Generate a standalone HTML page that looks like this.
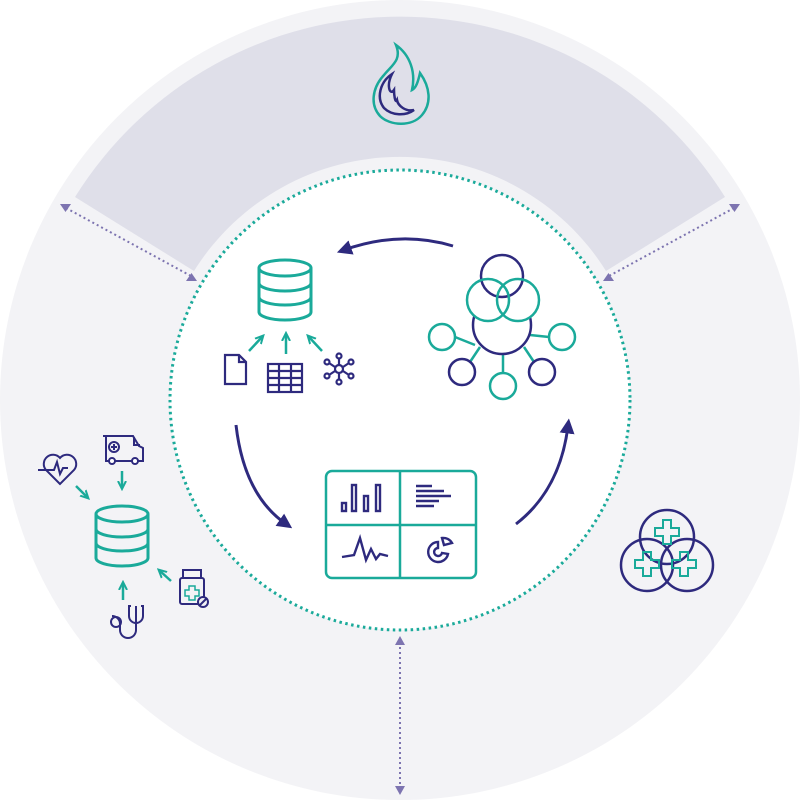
<!DOCTYPE html>
<html><head><style>html,body{margin:0;padding:0;background:#fff}svg{display:block}</style></head><body>
<svg width="800" height="800" viewBox="0 0 800 800" xmlns="http://www.w3.org/2000/svg">
<defs>
<marker id="ah" viewBox="0 0 10 10" refX="5" refY="5" markerWidth="5" markerHeight="5" orient="auto"><path d="M0,0L10,5L0,10z" fill="#2e2a7e"/></marker>
<marker id="at" viewBox="0 0 10 10" refX="6" refY="5" markerWidth="4" markerHeight="4" orient="auto"><path d="M0,1L8,5L0,9" fill="none" stroke="#1aaa9a" stroke-width="2"/></marker>
</defs>
<circle cx="400" cy="400" r="400" fill="#f3f3f6"/>
<path d="M75,197 A383,383 0 0 1 725,197 L606,271 A243,243 0 0 0 194,271 Z" fill="#dfdfe9"/>
<circle cx="400" cy="400" r="230" fill="#fff" stroke="#1aaa9a" stroke-width="3" stroke-dasharray="2.5 3.5"/>
<g stroke="#7d74b0" stroke-width="2" stroke-dasharray="2 3" fill="none">
<line x1="66" y1="208" x2="191" y2="276"/>
<line x1="734" y1="208" x2="609" y2="276"/>
<line x1="400" y1="642" x2="400" y2="788"/>
</g>
<g fill="#7d74b0">
<path d="M60,204h11l-5.5,8z"/><path d="M186,281h11l-5.5,-8z"/>
<path d="M729,204h11l-5.5,8z"/><path d="M603,281h11l-5.5,-8z"/>
<path d="M395,645h10l-5,-9z"/><path d="M395,786h10l-5,9z"/>
</g>
<path d="M396,45 C402,60 392,65 384,75 C372,88 370,105 380,116 C390,126 412,127 422,115 C432,103 430,87 420,73 C418,82 416,88 412,90 C416,72 410,55 396,45 Z" fill="none" stroke="#1aaa9a" stroke-width="2.5"/>
<path d="M392,74 C380,82 376,98 384,108 C392,116 406,116 414,110 C406,112 398,106 397,100 C395,104 394,94 394,90 C390,96 386,86 392,74 Z" fill="none" stroke="#2e2a7e" stroke-width="2.5"/>
<g fill="none" stroke="#2e2a7e" stroke-width="3">
<path d="M453,246 Q400,230 344,250" marker-end="url(#ah)"/>
<path d="M236,425 Q244,495 286,524" marker-end="url(#ah)"/>
<path d="M516,524 Q560,490 568,426" marker-end="url(#ah)"/>
</g>
<g fill="none" stroke="#1aaa9a" stroke-width="3">
<ellipse cx="285" cy="268" rx="26" ry="8"/>
<path d="M259,268v44a26,8 0 0 0 52,0v-44"/>
<path d="M259,283a26,8 0 0 0 52,0M259,297a26,8 0 0 0 52,0"/>
</g>
<g stroke="#1aaa9a" stroke-width="2.5" fill="none">
<line x1="249" y1="351" x2="262" y2="337" marker-end="url(#at)"/>
<line x1="286" y1="354" x2="286" y2="335" marker-end="url(#at)"/>
<line x1="322" y1="351" x2="309" y2="337" marker-end="url(#at)"/>
</g>
<g stroke="#2e2a7e" stroke-width="2.2" fill="none">
<path d="M225,355h14l7,7v22h-21z"/><path d="M239,355v7h7"/>
<rect x="268" y="364" width="34" height="28"/>
<path d="M268,371h34M268,378h34M268,385h34M279,364v28M291,364v28"/>
<circle cx="339" cy="369" r="4"/>
<circle cx="339" cy="356" r="2.5"/><circle cx="339" cy="382" r="2.5"/>
<circle cx="327" cy="362" r="2.5"/><circle cx="351" cy="362" r="2.5"/>
<circle cx="327" cy="376" r="2.5"/><circle cx="351" cy="376" r="2.5"/>
<path d="M339,358.5v6.5M339,373v6.5M329,363l6,4M349,363l-6,4M329,375l6,-4M349,375l-6,-4"/>
</g>
<g fill="none" stroke-width="2.5">
<path d="M475,345L455,337M530,335L549,337M480,347L470,362M524,347L534,362M503,354V373" stroke="#1aaa9a"/>
<circle cx="502" cy="325" r="29" stroke="#2e2a7e" fill="#fff"/>
<circle cx="488" cy="300" r="21" stroke="none" fill="#fff"/>
<circle cx="518" cy="300" r="21" stroke="none" fill="#fff"/>
<circle cx="502" cy="276" r="21" stroke="#2e2a7e"/>
<circle cx="488" cy="300" r="21" stroke="#1aaa9a"/>
<circle cx="518" cy="300" r="21" stroke="#1aaa9a"/>
<circle cx="442" cy="337" r="13" stroke="#1aaa9a"/>
<circle cx="562" cy="337" r="13" stroke="#1aaa9a"/>
<circle cx="462" cy="372" r="13" stroke="#2e2a7e"/>
<circle cx="542" cy="372" r="13" stroke="#2e2a7e"/>
<circle cx="503" cy="386" r="13" stroke="#1aaa9a"/>
</g>
<rect x="326" y="471" width="150" height="107" rx="6" fill="none" stroke="#1aaa9a" stroke-width="2.5"/>
<path d="M400,471v107M326,525h150" stroke="#1aaa9a" stroke-width="2.5"/>
<g stroke="#2e2a7e" stroke-width="2.4" fill="none">
<rect x="342" y="503" width="4" height="8"/><rect x="352" y="485" width="4" height="26"/>
<rect x="364" y="496" width="4" height="15"/><rect x="376" y="485" width="4" height="26"/>
<path d="M416,486h16M416,491h28M416,496h35M416,501h23M416,506h18"/>
<path d="M342,557l12,-2l6,-17l6,22l5,-11l5,10l4,-5l8,2"/>
<path d="M438,542a10,10 0 1 0 10,12l-6,-1a4,4 0 1 1 -4,-5z"/>
<path d="M442,538l2,7l8,-2a10,10 0 0 0 -10,-5z"/>
</g>
<g fill="none" stroke="#1aaa9a" stroke-width="3">
<ellipse cx="122" cy="514" rx="26" ry="8"/>
<path d="M96,514v44a26,8 0 0 0 52,0v-44"/>
<path d="M96,529a26,8 0 0 0 52,0M96,543a26,8 0 0 0 52,0"/>
</g>
<g stroke="#1aaa9a" stroke-width="2.5" fill="none">
<line x1="76" y1="486" x2="87" y2="497" marker-end="url(#at)"/>
<line x1="122" y1="471" x2="122" y2="487" marker-end="url(#at)"/>
<line x1="123" y1="600" x2="123" y2="584" marker-end="url(#at)"/>
<line x1="171" y1="581" x2="160" y2="571" marker-end="url(#at)"/>
</g>
<g stroke="#2e2a7e" stroke-width="2" fill="none">
<path d="M60,484l-14,-14a9,9 0 0 1 14,-12a9,9 0 0 1 14,12z"/>
<path d="M38,470h16l3,-8l3,12l3,-6h5"/>
<path d="M103,436h30l6,10l4,2v13h-37v-25z"/>
<circle cx="114" cy="447" r="5"/><path d="M114,444v6M111,447h6"/>
<circle cx="112" cy="461" r="3" fill="#fff"/><circle cx="135" cy="461" r="3" fill="#fff"/>
<path d="M134,437v8h6"/>
<rect x="180" y="578" width="24" height="26" rx="2"/><rect x="183" y="570" width="18" height="8"/>
<circle cx="203" cy="602" r="5" fill="#f3f3f6"/><path d="M200,605l6,-6"/>
<path d="M136,606v24a8,8 0 0 1 -16,0v-6a8,8 0 0 0 -8,-8"/>
<circle cx="116" cy="622" r="5"/>
<path d="M131,606h-2v10a7,7 0 0 0 14,0v-10h-2"/>
</g>
<path d="M189,586h6v4h4v6h-4v4h-6v-4h-4v-6h4z" fill="none" stroke="#1aaa9a" stroke-width="1.5"/>
<g fill="none" stroke="#2e2a7e" stroke-width="2.5">
<circle cx="667" cy="537" r="27"/><circle cx="647" cy="565" r="26"/><circle cx="687" cy="565" r="26"/>
</g>
<g fill="none" stroke="#1aaa9a" stroke-width="2">
<path d="M663,520h8v8h8v8h-8v8h-8v-8h-8v-8h8z"/>
<path d="M643,552h8v8h8v8h-8v8h-8v-8h-8v-8h8z"/>
<path d="M680,552h8v8h8v8h-8v8h-8v-8h-8v-8h8z"/>
</g>
</svg>
</body></html>
